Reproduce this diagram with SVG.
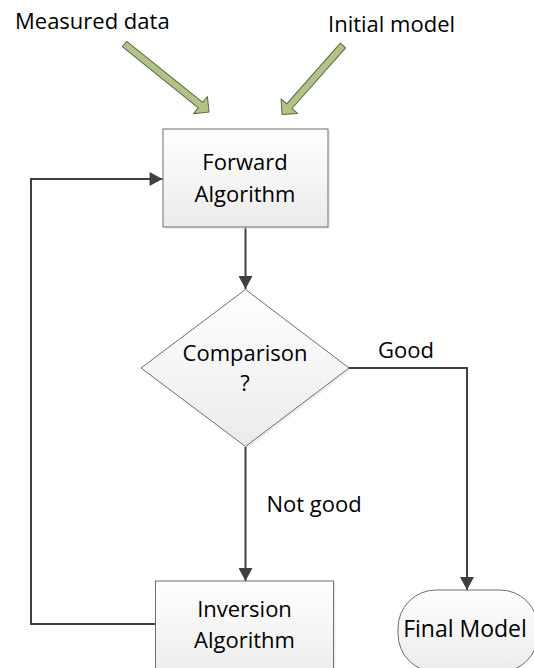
<svg xmlns="http://www.w3.org/2000/svg" width="534" height="668" viewBox="0 0 534 668">
  <style>
    text { font-family: "Open Sans", "Liberation Sans", sans-serif; font-size: 22px; fill: #000; }
    .c { text-anchor: middle; }
    .box { fill: url(#g); stroke: #6e6e6e; stroke-width: 1; }
    .shadow { fill: #d9d9d9; opacity: 0.45; }
    .conn { fill: none; stroke: #404040; stroke-width: 2; }
    .big { fill: #b2c387; stroke: #5b6842; stroke-width: 1; stroke-linejoin: round; }
  </style>
  <defs>
    <linearGradient id="g" x1="0" y1="0" x2="0" y2="1">
      <stop offset="0" stop-color="#ffffff"/>
      <stop offset="1" stop-color="#ebebeb"/>
    </linearGradient>
    <marker id="ah" markerUnits="userSpaceOnUse" markerWidth="14" markerHeight="14" viewBox="0 0 12 13" refX="12" refY="6.5" orient="auto">
      <path d="M0,0 L12,6.5 L0,13 Z" fill="#404040"/>
    </marker>
  </defs>

  <g id="connectors">
    <path class="conn" d="M245.5,227 V289" marker-end="url(#ah)"/>
    <path class="conn" d="M245.5,447 V581" marker-end="url(#ah)"/>
    <path class="conn" d="M349,368 H467 V590" marker-end="url(#ah)"/>
    <path class="conn" d="M156,624 H31 V179 H162.5" marker-end="url(#ah)"/>
  </g>

  <g id="measured-data">
    <text x="15" y="29">Measured data</text>
    <polygon class="big" transform="translate(124.5,44) rotate(38.8)" points="0,-3.5 97.5,-3.5 97.5,-11 108.5,0 97.5,11 97.5,3.5 0,3.5"/>
  </g>

  <g id="initial-model">
    <text x="328" y="32">Initial model</text>
    <polygon class="big" transform="translate(343,45.5) rotate(131.5)" points="0,-3.5 81,-3.5 81,-11 92,0 81,11 81,3.5 0,3.5"/>
  </g>

  <g id="forward-algorithm">
    <rect class="shadow" x="165" y="131" width="165" height="98"/>
    <rect class="box" x="163" y="129" width="165" height="98"/>
    <text class="c" x="245" y="170">Forward</text>
    <text class="c" x="245" y="201.5">Algorithm</text>
  </g>

  <g id="comparison">
    <polygon class="shadow" points="247.5,291.5 351,370 247.5,448.5 143,370"/>
    <polygon class="box" points="245.5,289.5 349,368 245.5,446.5 141,368"/>
    <text class="c" x="245" y="361">Comparison</text>
    <text class="c" x="245" y="391">?</text>
  </g>

  <g id="labels">
    <text x="378" y="358">Good</text>
    <text x="266.5" y="512">Not good</text>
  </g>

  <g id="inversion-algorithm">
    <rect class="shadow" x="157.5" y="583" width="178" height="100"/>
    <rect class="box" x="155.5" y="581" width="178" height="100"/>
    <text class="c" x="244.5" y="617">Inversion</text>
    <text class="c" x="244.5" y="647.5">Algorithm</text>
  </g>

  <g id="final-model">
    <rect class="box" x="398" y="590" width="140" height="82" rx="38" ry="38"/>
    <text class="c" x="465" y="636.5" style="font-size:23px">Final Model</text>
  </g>
</svg>
